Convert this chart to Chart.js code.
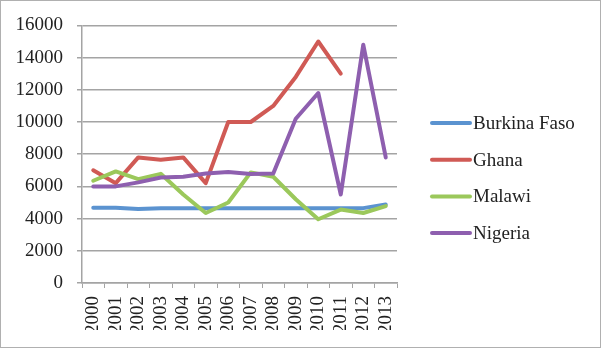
<!DOCTYPE html>
<html>
<head>
<meta charset="utf-8">
<script src="https://cdn.jsdelivr.net/npm/chart.js@4"></script>
<style>
    html, body { margin: 0; padding: 0; background: #fff; }
    #wrap { width: 602px; height: 350px; }
</style>
</head>
<body>
<div id="wrap"><canvas id="lineChart" width="602" height="350"></canvas></div>
<script>
// Năm và dữ liệu của từng nước
const years = ["2000", "2001", "2002", "2003", "2004", "2005", "2006",
               "2007", "2008", "2009", "2010", "2011", "2012", "2013"];
const burkinaFaso = [4680, 4680, 4600, 4650, 4650, 4650, 4650, 4650, 4650, 4650, 4650, 4650, 4650, 4870];
const ghana       = [7000, 6200, 7800, 7650, 7800, 6200, 10000, 10000, 11000, 12800, 15000, 13000, null, null];
const malawi      = [6350, 6930, 6450, 6780, 5500, 4350, 5000, 6870, 6600, 5200, 3960, 4560, 4350, 4780];
const nigeria     = [6000, 6000, 6250, 6550, 6600, 6800, 6900, 6770, 6800, 10200, 11800, 5500, 14800, 7800];
const yTicks = [0, 2000, 4000, 6000, 8000, 10000, 12000, 14000, 16000];

const gridColor = "#a4a4a4";
const fontFamily = "'Liberation Serif', 'Times New Roman', serif";

// Khung viền xám quanh toàn bộ hình
const frame = {
    id: "frame",
    beforeDraw(chart) {
        const ctx = chart.ctx;
        ctx.save();
        ctx.fillStyle = "#fff";
        ctx.fillRect(0, 0, chart.width, chart.height);
        ctx.strokeStyle = "#b0b0b0";
        ctx.lineWidth = 1;
        ctx.strokeRect(0.5, 0.5, chart.width - 2, chart.height - 3);
        ctx.restore();
    }
};

// Chú thích bên phải: đoạn thẳng màu + tên nước
const sideLegend = {
    id: "sideLegend",
    afterDraw(chart) {
        const ctx = chart.ctx;
        const area = chart.chartArea;
        const x0 = area.right + 35;
        const top = 123;
        const step = 36.7;
        ctx.save();
        ctx.font = "19px " + fontFamily;
        ctx.textBaseline = "middle";
        ctx.lineCap = "round";
        ctx.lineWidth = 4;
        chart.data.datasets.forEach((ds, i) => {
            const y = top + i * step;
            ctx.strokeStyle = ds.borderColor;
            ctx.beginPath();
            ctx.moveTo(x0, y);
            ctx.lineTo(x0 + 38, y);
            ctx.stroke();
            ctx.fillStyle = "#222";
            ctx.fillText(ds.label, x0 + 41, y + 1);
        });
        ctx.restore();
    }
};

function series(label, data, color, order) {
    return {
        label: label,
        data: data,
        borderColor: color,
        backgroundColor: color,
        borderWidth: 4,
        borderJoinStyle: "round",
        borderCapStyle: "round",
        pointRadius: 0,
        pointHoverRadius: 0,
        tension: 0,
        spanGaps: false,
        order: order
    };
}

const ctx = document.getElementById("lineChart").getContext("2d");
const myLineChart = new Chart(ctx, {
    type: "line",
    data: {
        labels: years,
        datasets: [
            series("Burkina Faso", burkinaFaso, "#5B93D0", 3),
            series("Ghana", ghana, "#D05A55", 2),
            series("Malawi", malawi, "#9BC85B", 1),
            series("Nigeria", nigeria, "#8E5FAF", 0)
        ]
    },
    options: {
        responsive: false,
        animation: false,
        layout: {
            padding: { top: 25, left: 0, bottom: 20, right: 205 }
        },
        plugins: {
            tooltip: { enabled: false },
            legend: { display: false }
        },
        scales: {
            x: {
                type: "category",
                offset: true,
                afterFit(scale) { scale.height = 47; },
                grid: {
                    display: true,
                    offset: true,
                    drawOnChartArea: false,
                    drawTicks: true,
                    tickLength: 5,
                    color: gridColor
                },
                border: { display: true, color: gridColor, width: 1.5 },
                ticks: {
                    autoSkip: false,
                    minRotation: 90,
                    maxRotation: 90,
                    padding: 8,
                    color: "#222",
                    font: { family: fontFamily, size: 19 }
                }
            },
            y: {
                min: 0,
                max: 16000,
                afterFit(scale) { scale.width = 82; },
                afterBuildTicks(scale) {
                    scale.ticks = yTicks.map(v => ({ value: v }));
                },
                grid: {
                    color: gridColor,
                    lineWidth: 1.5,
                    drawTicks: true,
                    tickLength: 5
                },
                border: { display: true, color: gridColor, width: 1.5 },
                ticks: {
                    padding: 14,
                    color: "#222",
                    font: { family: fontFamily, size: 19 },
                    callback: value => String(value)
                }
            }
        }
    },
    plugins: [frame, sideLegend]
});
</script>
</body>
</html>
